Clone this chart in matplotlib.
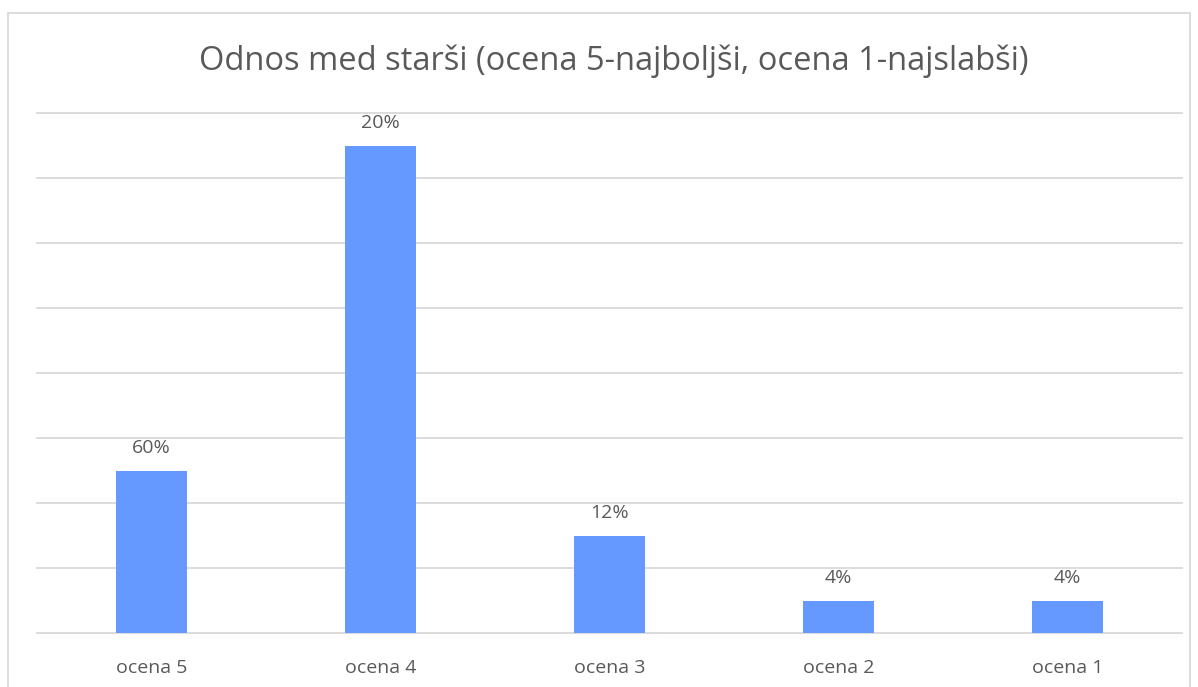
import matplotlib.pyplot as plt
from matplotlib.patches import Rectangle

categories = ['ocena 5', 'ocena 4', 'ocena 3', 'ocena 2', 'ocena 1']
counts = [5, 15, 3, 1, 1]
labels = ['60%', '20%', '12%', '4%', '4%']

plt.rcParams['font.family'] = ['Open Sans', 'DejaVu Sans']
txt = '#595959'

fig = plt.figure(figsize=(11.98, 6.87), dpi=100)
ax = fig.add_axes([37 / 1198, 1 - 633 / 687, 1145 / 1198, 520 / 687])

x = range(len(categories))
bars = ax.bar(x, counts, width=0.31, color='#6699FF', zorder=3)
for b, lab in zip(bars, labels):
    ax.annotate(lab, (b.get_x() + b.get_width() / 2, b.get_height()),
                xytext=(0, 10), textcoords='offset points',
                ha='center', va='bottom', fontsize=14, color=txt)

ax.set_xlim(-0.5, 4.5)
ax.set_ylim(0, 16)
ax.set_yticks(range(0, 17, 2))
ax.yaxis.grid(True, color='#d9d9d9', linewidth=1.3, zorder=0)
for gl in ax.get_ygridlines():
    gl.set_clip_on(False)
ax.tick_params(axis='y', left=False, labelleft=False)
ax.tick_params(axis='x', length=0, pad=19, labelsize=14, labelcolor=txt)
ax.set_xticks(list(x))
ax.set_xticklabels(categories)
for s in ax.spines.values():
    s.set_visible(False)

fig.text(0.512, 1 - 61 / 687, 'Odnos med starši (ocena 5-najboljši, ocena 1-najslabši)',
         ha='center', va='center', fontsize=23.5, color=txt)

# chart border
fig.patches.append(Rectangle((8 / 1198, -0.1), 1182 / 1198, 1.1 - 13 / 687,
                             transform=fig.transFigure, fill=False,
                             edgecolor='#d9d9d9', linewidth=1.3))

fig.savefig('out.png', dpi=100)
